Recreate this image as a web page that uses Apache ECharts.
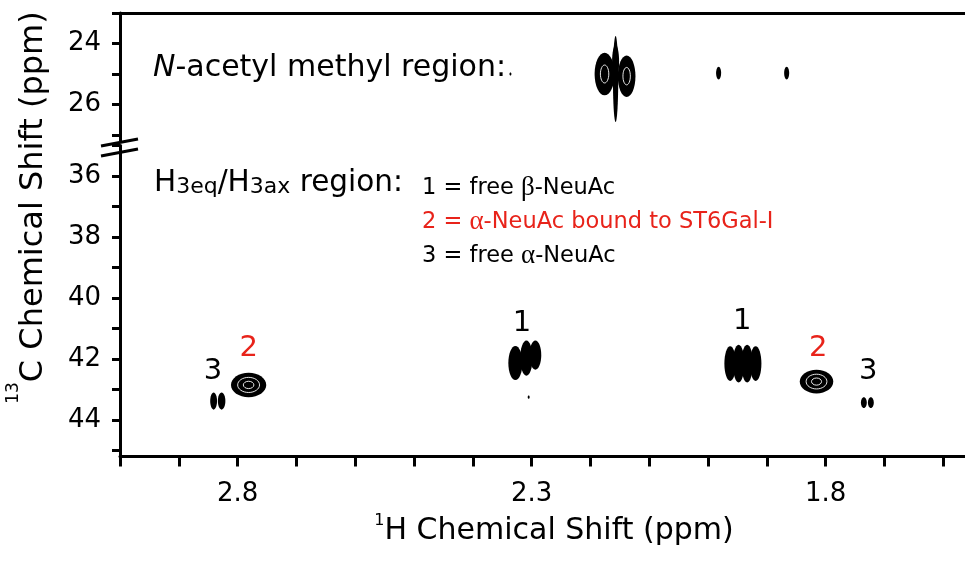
<!DOCTYPE html>
<html><head><meta charset="utf-8">
<script src="https://cdn.jsdelivr.net/npm/echarts@6/dist/echarts.min.js"></script>
<style>html,body{margin:0;padding:0;background:#fff}#c{width:965px;height:561px}</style>
</head><body><div id="c"></div>
<script>
// ---- axis ticks / labels ----
const xTicks = [1.6,1.7,1.8,1.9,2.0,2.1,2.2,2.3,2.4,2.5,2.6,2.7,2.8,2.9,3.0];
const xTickLabels = [1.8, 2.3, 2.8];
const yTopTicks = [23,24,25,26,27];
const yTopLabels = [24,26];
const yLowTicks = [35,36,37,38,39,40,41,42,43,44,45];
const yLowLabels = [36,38,40,42,44];

// ---- contour lobes: [1H ppm, 13C ppm, half-width (1H ppm), half-height (13C ppm)] ----
const acetylLobes = [
  [2.1759, 25.00, 0.0170, 0.70],
  [2.1384, 25.07, 0.0150, 0.68],
  [2.1572, 25.16, 0.0045, 1.41],
  [2.1572, 24.60, 0.0060, 0.55],
  [1.9820, 24.97, 0.0043, 0.21],
  [1.8663, 24.97, 0.0043, 0.21],
  [2.3360, 25.00, 0.0017, 0.05]
];
const h3Lobes = [
  // peak 3 (free alpha), left
  [2.8408, 43.38, 0.0058, 0.28],
  [2.8272, 43.38, 0.0064, 0.28],
  // peak 2 (bound), left
  [2.7813, 42.85, 0.0300, 0.40],
  // peak 1 (free beta), middle
  [2.3276, 42.13, 0.0120, 0.56],
  [2.3089, 41.97, 0.0105, 0.58],
  [2.2936, 41.87, 0.0100, 0.48],
  [2.3050, 43.25, 0.0017, 0.05],
  // peak 1, right
  [1.9624, 42.15, 0.0098, 0.57],
  [1.9480, 42.15, 0.0098, 0.62],
  [1.9335, 42.15, 0.0098, 0.62],
  [1.9190, 42.15, 0.0098, 0.57],
  // peak 2, right
  [1.8155, 42.74, 0.0285, 0.39],
  // peak 3, right
  [1.7350, 43.43, 0.0050, 0.18],
  [1.7231, 43.43, 0.0050, 0.18]
];
// ---- peak number labels ----
const peakLabels = ['3','2','1','1','2','3'];
const peakLabelX = [2.8417, 2.7813, 2.3162, 1.9420, 1.8128, 1.7277];
const peakLabelY = [42.41, 41.67, 40.82, 40.77, 41.67, 42.41];

const FONT = 'DejaVu Sans';
const RED = '#e8231a';
const AX = {color:'#000', width:3};

function lobeItem(params, api) {
  const c = api.coord([api.value(0), api.value(1)]);
  const s = api.size([api.value(2), api.value(3)]);
  const rx = Math.max(s[0], 0.9), ry = Math.max(s[1], 0.9);
  const children = [{type:'ellipse', shape:{cx:c[0], cy:c[1], rx:rx, ry:ry}, style:{fill:'#000'}}];
  const rings = rx >= 12 ? [0.62, 0.3] : (rx >= 8 && ry >= 8 ? [0.42] : []);
  rings.forEach(k => children.push({type:'ellipse', shape:{cx:c[0], cy:c[1], rx:rx*k, ry:ry*k},
    style:{fill:null, stroke:'#fff', lineWidth:0.9}}));
  return {type:'group', children:children};
}

const chart = echarts.init(document.getElementById('c'));
chart.setOption({
  animation:false,
  backgroundColor:'#fff',
  grid:[
    {left:120, top:13, right:0, height:128.1, outerBoundsMode:'none', containLabel:false},
    {left:120, top:145.5, right:0, height:311.1, outerBoundsMode:'none', containLabel:false}
  ],
  xAxis:[
    {gridIndex:0, type:'value', min:1.563, max:3.0, inverse:true, position:'top',
     axisLine:{show:true, lineStyle:AX}, axisTick:{show:false}, axisLabel:{show:false}, splitLine:{show:false}},
    {gridIndex:1, type:'value', min:1.563, max:3.0, inverse:true, position:'bottom',
     axisLine:{show:true, lineStyle:AX},
     axisTick:{show:true, length:10, lineStyle:AX, customValues:xTicks},
     axisLabel:{show:true, customValues:xTickLabels, formatter:v=>v.toFixed(1), margin:25,
       fontFamily:FONT, fontSize:26, color:'#000'},
     splitLine:{show:false},
     name:'{sup|1}{m|H Chemical Shift (ppm)}', nameLocation:'middle', nameGap:53,
     nameTextStyle:{fontFamily:FONT, fontSize:30, color:'#000', padding:[0,0,0,23],
       rich:{sup:{fontFamily:FONT, fontSize:16, color:'#000', verticalAlign:'top', padding:[0,0,18,0]},
             m:{fontFamily:FONT, fontSize:30, color:'#000', verticalAlign:'bottom'}}}}
  ],
  yAxis:[
    {gridIndex:0, type:'value', min:23, max:27.2, inverse:true,
     axisLine:{show:true, lineStyle:AX},
     axisTick:{show:true, length:8, lineStyle:AX, customValues:yTopTicks},
     axisLabel:{show:true, customValues:yTopLabels, margin:19, fontFamily:FONT, fontSize:26, color:'#000'},
     splitLine:{show:false}},
    {gridIndex:1, type:'value', min:35, max:45.2, inverse:true,
     axisLine:{show:true, lineStyle:AX},
     axisTick:{show:true, length:8, lineStyle:AX, customValues:yLowTicks},
     axisLabel:{show:true, customValues:yLowLabels, margin:19, fontFamily:FONT, fontSize:26, color:'#000'},
     splitLine:{show:false},
     name:'{sup|13}{m|C Chemical Shift (ppm)}', nameLocation:'middle', nameGap:70,
     nameTextStyle:{fontFamily:FONT, fontSize:32, color:'#000', padding:[0,0,0,187],
       rich:{sup:{fontFamily:FONT, fontSize:17, color:'#000', verticalAlign:'top', padding:[0,0,28,0]},
             m:{fontFamily:FONT, fontSize:32, color:'#000', verticalAlign:'bottom'}}}}
  ],
  series:[
    {type:'custom', xAxisIndex:0, yAxisIndex:0, data:acetylLobes, encode:{x:0, y:1}, renderItem:lobeItem, silent:true},
    {type:'custom', xAxisIndex:1, yAxisIndex:1, data:h3Lobes, encode:{x:0, y:1}, renderItem:lobeItem, silent:true},
    {type:'scatter', xAxisIndex:1, yAxisIndex:1, symbolSize:0, silent:true, itemStyle:{opacity:1},
     data: peakLabels.map((t,i)=>({value:[peakLabelX[i], peakLabelY[i]], name:t,
        label:{color: t==='2' ? RED : '#000'}})),
     label:{show:true, position:'inside', formatter:'{b}', fontFamily:FONT, fontSize:29, opacity:1,
       textBorderWidth:0}}
  ],
  graphic:[
    {type:'group', z:100, children:[
      {type:'polygon', shape:{points:[[101,146],[138,139],[138,149],[101,156]]}, style:{fill:'#fff'}},
      {type:'line', shape:{x1:101, y1:146, x2:138, y2:139}, style:{stroke:'#000', lineWidth:3}},
      {type:'line', shape:{x1:101, y1:156, x2:138, y2:149}, style:{stroke:'#000', lineWidth:3}}
    ]},
    {type:'text', x:153, y:68, z:100, style:{text:'{i|N}-acetyl methyl region:', fontFamily:FONT, fontSize:30,
      fill:'#000', verticalAlign:'middle',
      rich:{i:{fontFamily:FONT, fontStyle:'italic', fontSize:30, fill:'#000'}}}},
    {type:'text', x:154, y:183, z:100, style:{text:'H{s|3eq}/H{s|3ax} region:', fontFamily:FONT, fontSize:29.5,
      fill:'#000', verticalAlign:'middle',
      rich:{s:{fontFamily:FONT, fontSize:22, fill:'#000', verticalAlign:'bottom'}}}},
    {type:'text', x:422, y:188, z:100, style:{text:'1 = free {g|β}-NeuAc', fontFamily:FONT, fontSize:22.5,
      fill:'#000', verticalAlign:'middle', rich:{g:{fontFamily:'Liberation Serif', fontSize:27, fill:'#000'}}}},
    {type:'text', x:422, y:222, z:100, style:{text:'2 = {g|α}-NeuAc bound to ST6Gal-I', fontFamily:FONT, fontSize:22.5,
      fill:RED, verticalAlign:'middle', rich:{g:{fontFamily:'Liberation Serif', fontSize:27, fill:RED}}}},
    {type:'text', x:422, y:256, z:100, style:{text:'3 = free {g|α}-NeuAc', fontFamily:FONT, fontSize:22.5,
      fill:'#000', verticalAlign:'middle', rich:{g:{fontFamily:'Liberation Serif', fontSize:27, fill:'#000'}}}}
  ]
});
</script></body></html>
